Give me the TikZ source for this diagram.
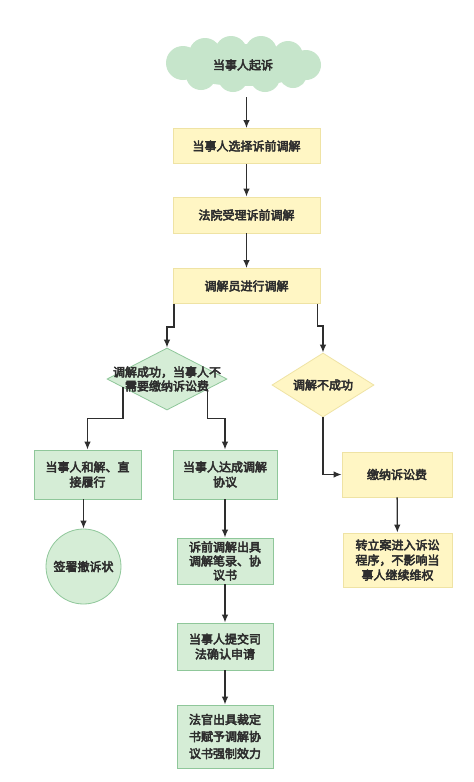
\documentclass[tikz,border=0pt]{standalone}
\usepackage{fontspec}
\setmainfont{Noto Sans CJK SC}[BoldFont={Noto Sans CJK SC}, BoldFeatures={FakeBold=4}]
\usetikzlibrary{shapes.geometric,arrows.meta,calc}
\definecolor{yfill}{HTML}{FFF6C4}
\definecolor{ydraw}{HTML}{EFE3A4}
\definecolor{gfill}{HTML}{D5EDD6}
\definecolor{gdraw}{HTML}{8FC79A}
\definecolor{cfill}{HTML}{C6E5CB}
\definecolor{txt}{HTML}{2E2E2E}
\begin{document}
\begin{tikzpicture}[x=1pt,y=-1pt,
  font=\bfseries\fontsize{12}{15}\selectfont, text=txt,
  ybox/.style={draw=ydraw, fill=yfill, line width=0.8pt, inner sep=0pt, align=center},
  gbox/.style={draw=gdraw, fill=gfill, line width=0.8pt, inner sep=0pt, align=center},
  puff/.style={fill=cfill},
  arr/.style={draw=txt, line width=1.3pt, -{Latex[length=8pt,width=6.5pt]}}]
\useasboundingbox (0,0) rectangle (474,782);
\fill[white] (0,0) rectangle (474,782);
% cloud
\node[minimum width=160pt, minimum height=54pt, inner sep=0pt] (c) at (243,65) {};
\fill[puff] (c.center) ellipse [x radius=68pt, y radius=21pt];
\fill[puff] ($(c.center)+(-60,-2)$) circle [radius=17pt];
\fill[puff] ($(c.center)+(-38,-11)$) circle [radius=16pt];
\fill[puff] ($(c.center)+(-12,-13)$) circle [radius=16pt];
\fill[puff] ($(c.center)+(18,-13)$) circle [radius=16pt];
\fill[puff] ($(c.center)+(45,-9)$) circle [radius=15pt];
\fill[puff] ($(c.center)+(63,0)$) circle [radius=15pt];
\fill[puff] ($(c.center)+(-42,10)$) circle [radius=15pt];
\fill[puff] ($(c.center)+(-10,12)$) circle [radius=15pt];
\fill[puff] ($(c.center)+(22,12)$) circle [radius=15pt];
\fill[puff] ($(c.center)+(50,9)$) circle [radius=14pt];
\node (ct) at (c.center) {当事人起诉};
% main column
\node[ybox, minimum width=147pt, minimum height=35pt] (b1) at (246.5,146) {当事人选择诉前调解};
\node[ybox, minimum width=147pt, minimum height=36pt] (b2) at (246.5,215) {法院受理诉前调解};
\node[ybox, minimum width=147pt, minimum height=35pt] (b3) at (246.5,286) {调解员进行调解};
% diamonds
\node[diamond, gbox, minimum width=120pt, minimum height=62pt] (d1) at (167,379) {};
\node[align=center, font=\bfseries\fontsize{12}{14}\selectfont] (d1t) at (d1.center) {调解成功，当事人不\\需要缴纳诉讼费};
\node[diamond, ybox, minimum width=102pt, minimum height=64pt] (d2) at (323,385) {};
\node (d2t) at (d2.center) {调解不成功};
% right branch
\node[ybox, minimum width=110pt, minimum height=45pt] (b4) at (397,474.5) {缴纳诉讼费};
\node[ybox, minimum width=109pt, minimum height=54pt] (b5) at (397.5,560) {转立案进入诉讼\\程序，不影响当\\事人继续维权};
% left branch
\node[gbox, minimum width=107pt, minimum height=49pt] (g1) at (87.5,474.5) {当事人和解、直\\接履行};
\node[circle, gbox, minimum size=75pt] (g2) at (83.5,566.5) {签署撤诉状};
% middle branch
\node[gbox, minimum width=104pt, minimum height=49pt] (g3) at (225,474.5) {当事人达成调解\\协议};
\node[gbox, minimum width=96pt, minimum height=46pt, font=\bfseries\fontsize{12}{14}\selectfont] (g4) at (225,561) {诉前调解出具\\调解笔录、协\\议书};
\node[gbox, minimum width=96pt, minimum height=47pt] (g5) at (225,646.5) {当事人提交司\\法确认申请};
\node[gbox, minimum width=96pt, minimum height=63pt, font=\bfseries\fontsize{12}{17}\selectfont] (g6) at (225,736.5) {法官出具裁定\\书赋予调解协\\议书强制效力};
% helper coordinates
\coordinate (d1l) at ($(d1.west)!0.27!(d1.south)$);
\coordinate (d1r) at ($(d1.south)!0.67!(d1.east)$);
% connectors
\draw[arr] ([yshift=-5pt]b1.north |- c.south) -- (b1.north);
\draw[arr] (b1) -- (b2);
\draw[arr] (b2) -- (b3);
\draw[arr] ([xshift=1.5pt]b3.south west) -- ++(0,23) -| (d1.north);
\draw[arr] ([xshift=-3pt]b3.south east) -- ++(0,22) -| (d2.north);
\draw[arr] (d2.south) |- (b4.west);
\draw[arr] (b4) -- (b5);
\draw[arr] (d1l) -- ++(0,31) -| (g1.north);
\draw[arr] (d1r) -- ++(0,29) -| (g3.north);
\draw[arr] (g2.north |- g1.south) -- (g2.north);
\draw[arr] (g3) -- (g4);
\draw[arr] (g4) -- (g5);
\draw[arr] (g5) -- (g6);
\end{tikzpicture}
\end{document}
